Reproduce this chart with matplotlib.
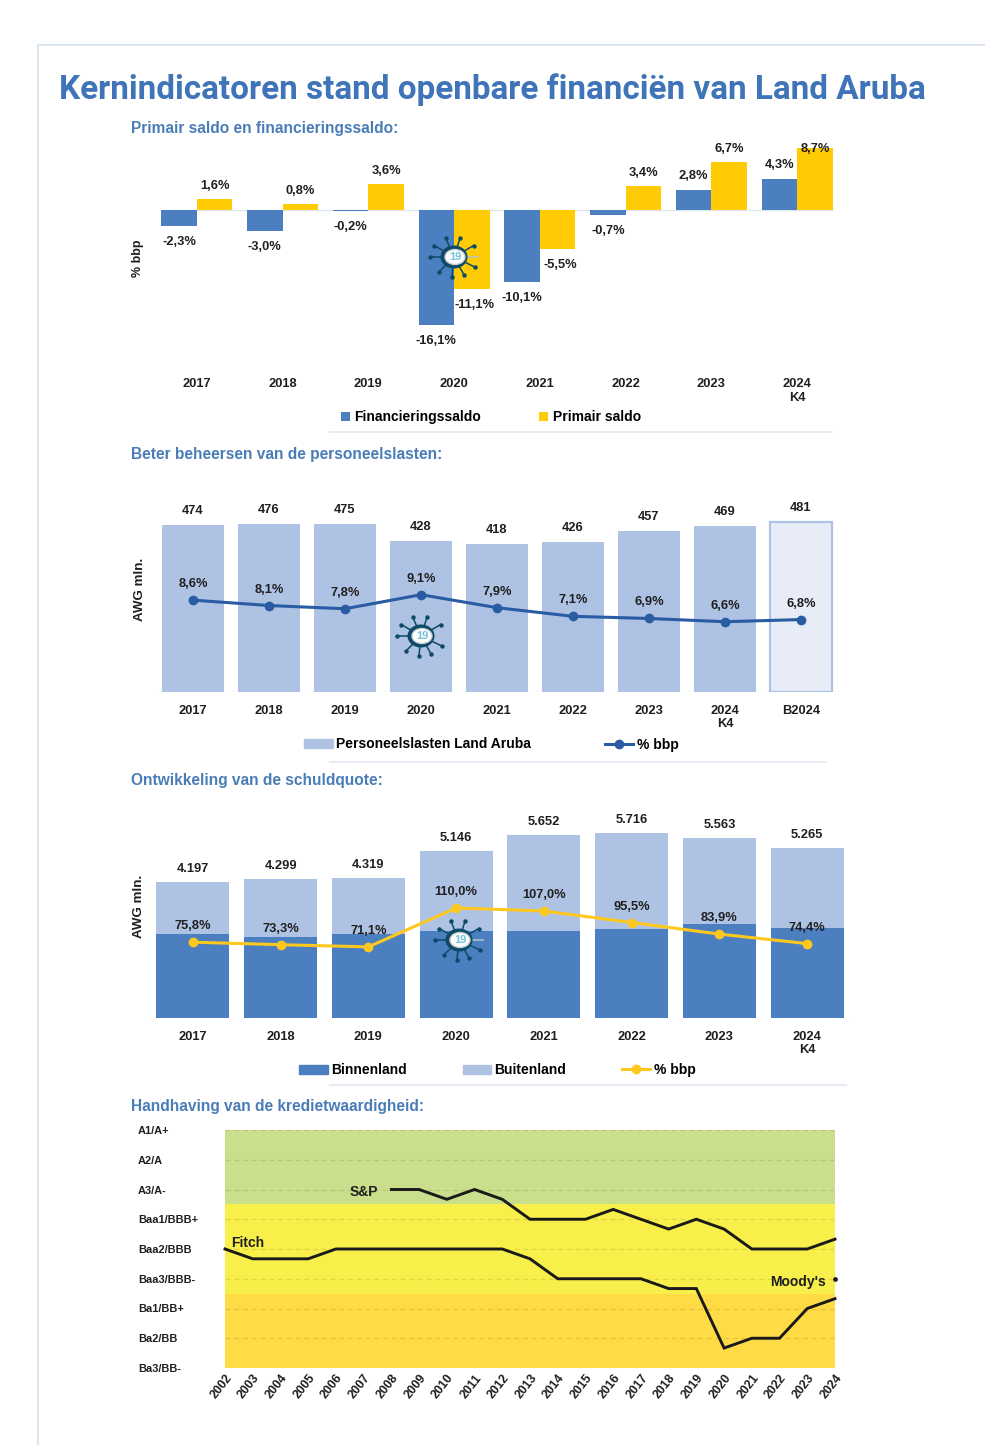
import numpy as np
import matplotlib
matplotlib.use("Agg")
import matplotlib.pyplot as plt
from matplotlib.patches import Ellipse, Rectangle
from matplotlib.transforms import ScaledTranslation

plt.rcParams['font.family'] = ['Liberation Sans', 'DejaVu Sans']
plt.rcParams['font.weight'] = 'bold'

W, H = 985, 1445

# ---------- data ----------
years_a = ['2017', '2018', '2019', '2020', '2021', '2022', '2023', '2024\nK4']
fin_saldo = [-2.3, -3.0, -0.2, -16.1, -10.1, -0.7, 2.8, 4.3]
prim_saldo = [1.6, 0.8, 3.6, -11.1, -5.5, 3.4, 6.7, 8.7]

years_b = ['2017', '2018', '2019', '2020', '2021', '2022', '2023', '2024\nK4', 'B2024']
personeel = [474, 476, 475, 428, 418, 426, 457, 469, 481]
personeel_pct = [8.6, 8.1, 7.8, 9.1, 7.9, 7.1, 6.9, 6.6, 6.8]

binnenland = [2595, 2502, 2595, 2688, 2688, 2749, 2904, 2780]
buitenland = [1602, 1797, 1724, 2458, 2964, 2967, 2659, 2485]
schuld_totaal = [4197, 4299, 4319, 5146, 5652, 5716, 5563, 5265]
schuld_pct = [75.8, 73.3, 71.1, 110.0, 107.0, 95.5, 83.9, 74.4]

rating_labels = ['Ba3/BB-', 'Ba2/BB', 'Ba1/BB+', 'Baa3/BBB-', 'Baa2/BBB',
                 'Baa1/BBB+', 'A3/A-', 'A2/A', 'A1/A+']
rating_years = list(range(2002, 2025))
nan = float('nan')
sp = [nan, nan, nan, nan, nan, nan, 6, 6, 5.67, 6, 5.67, 5, 5, 5, 5.33, 5, 4.67, 5, 4.67, 4, 4, 4, 4.33]
fitch = [4, 3.67, 3.67, 3.67, 4, 4, 4, 4, 4, 4, 4, 3.67, 3, 3, 3, 3, 2.67, 2.67, 0.67, 1, 1, 2, 2.33]
moodys_year = [2024]
moodys = [3.0]

# ---------- styles ----------
BLUE = '#4C7FC0'
YEL = '#FFCB05'
LIGHT = '#AEC3E3'
PALE = '#E7ECF7'
DARKLINE = '#2A5CA3'
LINEYEL = '#FFC81E'
TITLE = '#3F74B8'
HEAD = '#4A7DB8'
TXT = '#1F1F1F'
FS = 9.3
LEG = 10.0


def ax_px(x0, y0, x1, y1):
    return fig.add_axes([x0 / W, 1 - y1 / H, (x1 - x0) / W, (y1 - y0) / H])


def clean(ax):
    for s in ax.spines.values():
        s.set_visible(False)
    ax.patch.set_alpha(0)


def pct(v, d=1):
    return f'{v:.{d}f}'.replace('.', ',') + '%'


def thousand(v):
    return f'{v:,}'.replace(',', '.')


def lab(ax, x, y, s, dy):
    ax.annotate(s, (x, y), xytext=(0, dy * 0.72), textcoords='offset points',
                ha='center', va='center', fontsize=FS, color=TXT, zorder=8)


fig = plt.figure(figsize=(W / 100, H / 100), dpi=100, facecolor='white')

# overlay in pixel coordinates for page furniture
pg = fig.add_axes([0, 0, 1, 1], zorder=0)
pg.set_xlim(0, W)
pg.set_ylim(H, 0)
pg.axis('off')
pg.plot([38, 38, W], [H, 45, 45], color='#D6E3EF', lw=1.3)
title = pg.text(59, 90, 'Kernindicatoren stand openbare financiën van Land Aruba',
                fontsize=24, color=TITLE, va='center', ha='left',
                family=['Roboto', 'Liberation Sans'])
tw = title.get_window_extent(fig.canvas.get_renderer()).width
title.set_fontsize(24 * 869 / tw)
for y, s in [(128, 'Primair saldo en financieringssaldo:'),
             (454, 'Beter beheersen van de personeelslasten:'),
             (781, 'Ontwikkeling van de schuldquote:'),
             (1107, 'Handhaving van de kredietwaardigheid:')]:
    pg.text(131, y, s, fontsize=11.2, color=HEAD, va='center', ha='left')
for y, a, b in [(432, 330, 832), (762, 330, 826), (1085, 330, 846)]:
    pg.plot([a, b], [y, y], color='#E3EBF5', lw=1.3)
pg.text(137.5, 258, '% bbp', rotation=90, fontsize=9, color=TXT, ha='center', va='center')
pg.text(140, 589, 'AWG mln.', rotation=90, fontsize=9.6, color=TXT, ha='center', va='center')
pg.text(139, 906, 'AWG mln.', rotation=90, fontsize=9.6, color=TXT, ha='center', va='center')

# ---------- chart 1 ----------
a1 = ax_px(154, 140, 840, 345)
clean(a1)
s1 = 7.14
a1.set_xlim(-0.5, 7.5)
a1.set_ylim(-135 / s1, 70 / s1)
x = np.arange(len(years_a))
bw = 0.415
a1.bar(x - bw / 2, fin_saldo, bw, color=BLUE, label='Financieringssaldo', zorder=3)
a1.bar(x + bw / 2, prim_saldo, bw, color=YEL, label='Primair saldo', zorder=3)
a1.axhline(0, color='#DFE6EE', lw=1, zorder=2, xmin=0.01, xmax=0.99)
a1.set_xticks(x, years_a, fontsize=FS, color=TXT)
a1.tick_params(length=0, pad=24)
a1.set_yticks([])
for i, (f, p) in enumerate(zip(fin_saldo, prim_saldo)):
    lab(a1, i - bw / 2, f, pct(f), 14 if f > 0 else -16)
    dp = 13 if p > 0 else -16
    if i == 7:
        dp = -1
    lab(a1, i + bw / 2 + (0.03 if p < 0 else 0), p, pct(p), dp)
a1.legend(loc='center', bbox_to_anchor=(491 / W, 1 - 417 / H), bbox_transform=fig.transFigure,
          ncol=2, frameon=False, fontsize=LEG, handlelength=0.6, handleheight=0.6,
          handletextpad=0.35, columnspacing=4.2, borderpad=0)

# ---------- chart 2 ----------
a2 = ax_px(155, 500, 839, 692)
clean(a2)
s2 = 0.353
a2.set_xlim(-0.5, 8.5)
a2.set_ylim(0, 192 / s2)
x = np.arange(len(years_b))
cols = [LIGHT] * 8 + [PALE]
edges = [LIGHT] * 9
a2.bar(x, personeel, 0.82, color=cols, edgecolor=edges, linewidth=[0] * 8 + [1.6], zorder=2)
a2.axhline(0, color='#DFE6EE', lw=1, zorder=1)
a2.set_xticks(x, years_b, fontsize=FS, color=TXT)
a2.tick_params(length=0, pad=9)
a2.set_yticks([])
t2 = a2.twinx()
clean(t2)
t2.set_ylim(1 / 10.8, 193 / 10.8)
t2.set_yticks([])
l2, = t2.plot(x, personeel_pct, color=DARKLINE, lw=2.2, marker='o', ms=6, zorder=5)
for i, (v, p) in enumerate(zip(personeel, personeel_pct)):
    lab(a2, i, v, str(v), 14)
    lab(t2, i, p, pct(p), 16)
t2.legend([Rectangle((0, 0), 1, 1, color=LIGHT), l2], ['Personeelslasten Land Aruba', '% bbp'],
          loc='center', bbox_to_anchor=(491.5 / W, 1 - 744.5 / H), bbox_transform=fig.transFigure,
          ncol=2, frameon=False, fontsize=LEG, handlelength=2.05, handleheight=0.6,
          handletextpad=0.25, columnspacing=5.3, borderpad=0)

# ---------- chart 3 ----------
a3 = ax_px(149, 815, 851, 1018)
clean(a3)
s3 = 0.03237
a3.set_xlim(-0.5, 7.5)
a3.set_ylim(0, 203 / s3)
x = np.arange(len(years_a))
a3.bar(x, binnenland, 0.83, color=BLUE, label='Binnenland', zorder=2)
a3.bar(x, buitenland, 0.83, bottom=binnenland, color=LIGHT, label='Buitenland', zorder=2)
a3.axhline(0, color='#DFE6EE', lw=1, zorder=1)
a3.set_xticks(x, years_a, fontsize=FS, color=TXT)
a3.tick_params(length=0, pad=9)
a3.set_yticks([])
t3 = a3.twinx()
clean(t3)
t3.set_ylim(0, 203)
t3.set_yticks([])
l3, = t3.plot(x, schuld_pct, color=LINEYEL, lw=2.2, marker='o', ms=6, zorder=5)
for i, (v, p) in enumerate(zip(schuld_totaal, schuld_pct)):
    lab(a3, i, v, thousand(v), 13)
    lab(t3, i, p, pct(p), 16)
hb = [Rectangle((0, 0), 1, 1, color=BLUE), Rectangle((0, 0), 1, 1, color=LIGHT), l3]
t3.legend(hb, ['Binnenland', 'Buitenland', '% bbp'],
          loc='center', bbox_to_anchor=(497.5 / W, 1 - 1070 / H), bbox_transform=fig.transFigure,
          ncol=3, frameon=False, fontsize=LEG, handlelength=2.05, handleheight=0.6,
          handletextpad=0.25, columnspacing=4.0, borderpad=0)

# ---------- chart 4 ----------
a4 = ax_px(225, 1130, 835, 1368)
clean(a4)
a4.set_xlim(2002, 2024)
a4.set_ylim(0, 8)
a4.axhspan(5.5, 8, color='#C9DF8C', lw=0, zorder=0)
a4.axhspan(2.5, 5.5, color='#F8EF4A', lw=0, zorder=0)
a4.axhspan(0, 2.5, color='#FFDB45', lw=0, zorder=0)
for k in range(1, 9):
    a4.axhline(k, color='#000000', alpha=0.10, lw=0.9, ls=(0, (4, 3)), zorder=1)
a4.plot(rating_years, sp, color='#1A1A1A', lw=2.1, zorder=4, solid_joinstyle='miter', clip_on=False)
a4.plot(rating_years, fitch, color='#1A1A1A', lw=2.1, zorder=4, solid_joinstyle='miter', clip_on=False)
a4.plot(moodys_year, moodys, ls='none', marker='o', ms=2.4, color='#1A1A1A', clip_on=False, zorder=4)
a4.set_xticks(rating_years, [str(y) for y in rating_years], rotation=52, ha='right',
              rotation_mode='anchor', fontsize=8.8, color=TXT)
shift = ScaledTranslation(-2.5 / 100, 0, fig.dpi_scale_trans)
for t in a4.get_xticklabels():
    t.set_transform(t.get_transform() + shift)
a4.set_yticks(range(9), rating_labels, fontsize=7.9, color=TXT, ha='left')
a4.tick_params(axis='y', length=0, pad=62.5)
a4.tick_params(axis='x', length=0, pad=3)
a4.text(2002.22, 4.2, 'Fitch', fontsize=10, color=TXT, va='center', ha='left', zorder=6)
a4.text(2007.0, 5.9, 'S&P', fontsize=10, color=TXT, va='center', ha='center', zorder=6)
a4.text(2022.66, 2.89, "Moody's", fontsize=10, color=TXT, va='center', ha='center', zorder=6)

# ---------- covid icon ----------
ov = fig.add_axes([0, 0, 1, 1], zorder=20)
ov.set_xlim(0, W)
ov.set_ylim(H, 0)
ov.axis('off')
ov.patch.set_alpha(0)


def virus(cx, cy):
    c = '#0E4A68'
    for a in np.deg2rad([0, 30, 65, 95, 130, 180, 215, 250, 285, 325]):
        x1, y1 = cx + 24 * np.cos(a), cy + 20 * np.sin(a)
        col = '#B9C3C9' if a == 0 else c
        ov.plot([cx, x1], [cy, y1], color=col, lw=1.1)
        if a != 0:
            ov.plot([x1], [y1], 'o', ms=2.2, color=c)
    ov.add_patch(Ellipse((cx, cy), 27, 23, fc=c, ec='none', zorder=3))
    ov.add_patch(Ellipse((cx + 1, cy), 20, 15, fc='white', ec='#C8CED2', lw=1, zorder=4))
    ov.text(cx + 1, cy, '19', fontsize=8, color='#6FC3DC', ha='center', va='center', zorder=5)


virus(454, 257)
virus(421, 636)
virus(459, 940)

fig.savefig('out.png', dpi=100, facecolor='white')
